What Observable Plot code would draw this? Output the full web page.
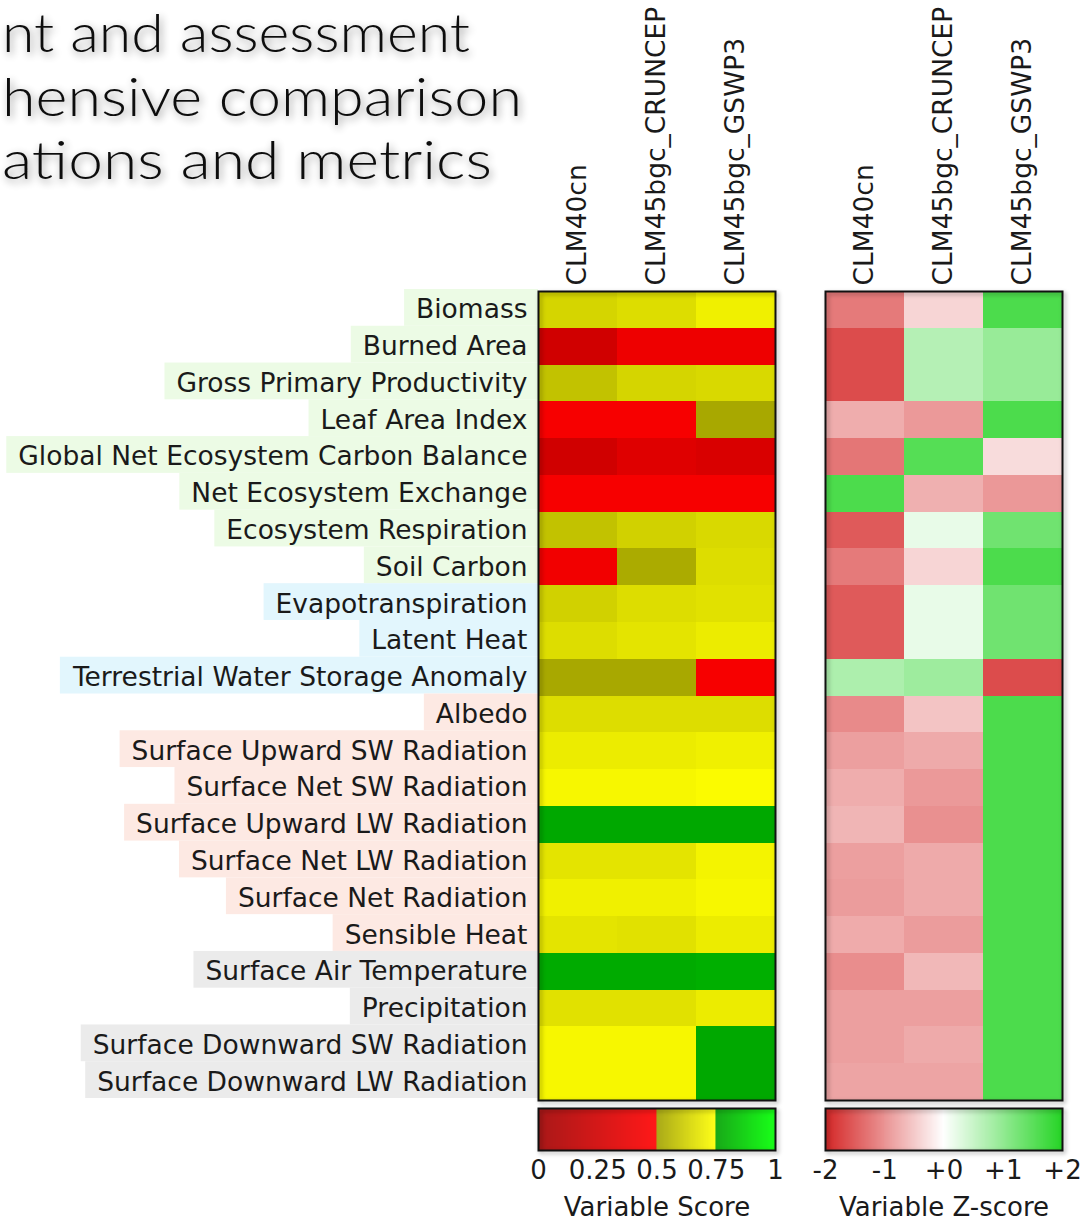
<!DOCTYPE html>
<html><head><meta charset="utf-8">
<script src="https://cdn.jsdelivr.net/npm/d3@7"></script>
<script src="https://cdn.jsdelivr.net/npm/@observablehq/plot@0.6"></script>
<style>
html,body{margin:0;padding:0;background:#fff;}
#root{position:relative;width:1081px;height:1222px;overflow:hidden;background:#fff;font-family:"DejaVu Sans";}
#root > svg{position:absolute;}
</style></head><body><div id="root"></div>
<script>
// ---------- data ----------
const titleLines = ["nt and assessment", "hensive comparison", "ations and metrics"];
const models = ["CLM40cn", "CLM45bgc_CRUNCEP", "CLM45bgc_GSWP3"];
const variables = [
  "Biomass", "Burned Area", "Gross Primary Productivity", "Leaf Area Index",
  "Global Net Ecosystem Carbon Balance", "Net Ecosystem Exchange", "Ecosystem Respiration",
  "Soil Carbon", "Evapotranspiration", "Latent Heat", "Terrestrial Water Storage Anomaly",
  "Albedo", "Surface Upward SW Radiation", "Surface Net SW Radiation", "Surface Upward LW Radiation",
  "Surface Net LW Radiation", "Surface Net Radiation", "Sensible Heat", "Surface Air Temperature",
  "Precipitation", "Surface Downward SW Radiation", "Surface Downward LW Radiation"
];
const sections = ["eco","eco","eco","eco","eco","eco","eco","eco","hyd","hyd","hyd",
  "rad","rad","rad","rad","rad","rad","rad","forc","forc","forc","forc"];
const sectionColors = {eco: "#ecfbe5", hyd: "#e2f6fd", rad: "#fde9e3", forc: "#ebebeb"};

const scoreCLM40cn = [0.64,0.25,0.59,0.46,0.25,0.46,0.59,0.43,0.63,0.66,0.52,0.66,0.70,0.73,0.77,0.68,0.71,0.68,0.78,0.67,0.73,0.73];
const scoreCRUNCEP = [0.66,0.41,0.64,0.46,0.33,0.46,0.63,0.53,0.66,0.68,0.52,0.66,0.70,0.73,0.77,0.68,0.71,0.67,0.78,0.67,0.73,0.73];
const scoreGSWP3   = [0.71,0.41,0.65,0.52,0.30,0.46,0.65,0.66,0.67,0.70,0.46,0.66,0.71,0.74,0.77,0.72,0.73,0.70,0.79,0.70,0.77,0.77];

const zCLM40cn = [-1.11,-1.50,-1.50,-0.69,-1.15,1.50,-1.38,-1.11,-1.38,-1.38,0.69,-0.98,-0.80,-0.69,-0.62,-0.80,-0.83,-0.70,-0.95,-0.80,-0.80,-0.76];
const zCRUNCEP = [-0.35,0.62,0.62,-0.85,1.42,-0.66,0.19,-0.35,0.19,0.19,0.81,-0.49,-0.71,-0.85,-0.93,-0.71,-0.71,-0.83,-0.59,-0.80,-0.71,-0.76];
const zGSWP3   = [1.50,0.86,0.86,1.50,-0.29,-0.86,1.20,1.50,1.20,1.20,-1.50,1.50,1.50,1.50,1.50,1.50,1.50,1.50,1.50,1.50,1.50,1.50];

const scoreTicks = [0, 0.25, 0.5, 0.75, 1];
const zTicks = [-2, -1, 0, 1, 2];
const scoreTickLabels = ["0", "0.25", "0.5", "0.75", "1"];
const zTickLabels = ["-2", "-1", "+0", "+1", "+2"];

// ---------- tables ----------
const scoreCols = [scoreCLM40cn, scoreCRUNCEP, scoreGSWP3];
const zCols = [zCLM40cn, zCRUNCEP, zGSWP3];
const scoreData = variables.flatMap((v, i) => models.map((m, j) => ({variable: v, model: m, value: scoreCols[j][i]})));
const zData = variables.flatMap((v, i) => models.map((m, j) => ({variable: v, model: m, value: zCols[j][i]})));

const scoreColor = {type: "linear", domain: [0, 0.5, 0.5, 0.75, 0.75, 1],
  range: ["#a00000", "#ff0000", "#a0a000", "#ffff00", "#00a000", "#00ff00"], interpolate: "rgb", clamp: true};
const zColor = {type: "linear", domain: [-2, 0, 2], range: ["#d01010", "#ffffff", "#10d010"], interpolate: "rgb", clamp: true};

const root = document.getElementById("root");
const baseStyle = {fontFamily: "DejaVu Sans", fontSize: "26px", color: "#1a1a1a", background: "transparent", overflow: "visible"};

// ---------- title ----------
const NS = "http://www.w3.org/2000/svg";
const tsvg = document.createElementNS(NS, "svg");
tsvg.setAttribute("width", 1081); tsvg.setAttribute("height", 210);
tsvg.style.left = "0px"; tsvg.style.top = "0px";
tsvg.innerHTML = `<defs><filter id="sh" x="-10%" y="-30%" width="120%" height="160%">
<feGaussianBlur in="SourceAlpha" stdDeviation="4"/><feOffset dx="2" dy="3" result="b"/>
<feComponentTransfer><feFuncA type="linear" slope="0.45"/></feComponentTransfer>
<feMerge><feMergeNode/><feMergeNode in="SourceGraphic"/></feMerge></filter></defs>`;
const titleLayout = [{x: 2, y: 52, len: 468}, {x: 2, y: 116, len: 520}, {x: 2, y: 179, len: 490}];
titleLines.forEach((t, i) => {
  const el = document.createElementNS(NS, "text");
  el.textContent = t;
  el.setAttribute("x", titleLayout[i].x); el.setAttribute("y", titleLayout[i].y);
  el.setAttribute("textLength", titleLayout[i].len);
  el.setAttribute("lengthAdjust", "spacingAndGlyphs");
  el.setAttribute("font-family", "Lato"); el.setAttribute("font-weight", "300");
  el.setAttribute("font-size", "53");
  el.setAttribute("fill", "#111"); el.setAttribute("filter", "url(#sh)");
  tsvg.appendChild(el);
});
root.appendChild(tsvg);

function shadowFrame(svg) {
  svg.querySelectorAll('[aria-label="frame"]').forEach(f => {
    f.style.filter = "drop-shadow(2px 2px 2px rgba(0,0,0,0.35))";
  });
}

// ---------- heatmaps ----------
function heat(data, color, width, ml, mr, showY) {
  return Plot.plot({
    width, height: 1105, marginTop: 291, marginBottom: 5, marginLeft: ml, marginRight: mr,
    style: {...baseStyle, fontSize: "26.5px"},
    x: {domain: models, padding: 0, round: false, axis: "top", tickRotate: -90, tickSize: 0, tickPadding: 6, label: null},
    y: {domain: variables, padding: 0, round: false, tickSize: 0, tickPadding: 11, label: null, axis: showY ? "left" : null},
    color,
    marks: [
      Plot.cell(data, {x: "model", y: "variable", fill: "value", inset: 0, shapeRendering: "crispEdges"}),
      Plot.frame({stroke: "#111", strokeWidth: 2})
    ]
  });
}
const p1 = heat(scoreData, scoreColor, 790, 538, 15, true);
p1.style.left = "0px"; p1.style.top = "0px";
root.appendChild(p1);
const p2 = heat(zData, zColor, 281, 25, 19, false);
p2.style.left = "800px"; p2.style.top = "0px";
root.appendChild(p2);
shadowFrame(p1); shadowFrame(p2);

// label background bands, sized from the rendered tick labels
{
  const yS = p1.scale("y"), xS = p1.scale("x");
  const svgRect = p1.getBoundingClientRect();
  let texts = p1.querySelectorAll('g[aria-label="y-axis tick label"] text');
  if (!texts.length) texts = p1.querySelectorAll('g[aria-label="y-axis"] text');
  const g = document.createElementNS(NS, "g");
  texts.forEach(t => {
    const v = t.textContent;
    const i = variables.indexOf(v);
    if (i < 0) return;
    const r = t.getBoundingClientRect();
    const x0 = r.left - svgRect.left - 12;
    const rect = document.createElementNS(NS, "rect");
    rect.setAttribute("x", x0);
    rect.setAttribute("width", xS.range[0] - x0);
    rect.setAttribute("y", yS.apply(v) - 2);
    rect.setAttribute("height", yS.bandwidth);
    rect.setAttribute("fill", sectionColors[sections[i]]);
    g.appendChild(rect);
  });
  p1.insertBefore(g, p1.firstChild);
}

// ---------- colorbars ----------
function colorbar(color, domain, ticks, labels, label, width, ml, mr) {
  const n = 474;
  const [a, b] = domain;
  const steps = d3.range(n);
  return Plot.plot({
    width, height: 122, marginTop: 8, marginBottom: 72, marginLeft: ml, marginRight: mr,
    style: baseStyle,
    x: {domain, ticks, tickFormat: d => labels[ticks.indexOf(d)], tickSize: 0, tickPadding: 10,
        label, labelAnchor: "center", labelOffset: 65, labelArrow: "none"},
    y: {domain: [0, 1], axis: null},
    color,
    marks: [
      Plot.rect(steps, {x1: i => a + (b - a) * i / n, x2: i => a + (b - a) * Math.min(n, i + 1.5) / n,
        y1: 0, y2: 1, fill: i => a + (b - a) * (i + 0.5) / n}),
      Plot.frame({stroke: "#111", strokeWidth: 2})
    ]
  });
}
const c1 = colorbar(scoreColor, [0, 1], scoreTicks, scoreTickLabels, "Variable Score", 300, 33, 30);
c1.style.left = "505px"; c1.style.top = "1100px";
root.appendChild(c1);
const c2 = colorbar(zColor, [-2, 2], zTicks, zTickLabels, "Variable Z-score", 286, 30, 19);
c2.style.left = "795px"; c2.style.top = "1100px";
root.appendChild(c2);
shadowFrame(c1); shadowFrame(c2);
</script></body></html>
